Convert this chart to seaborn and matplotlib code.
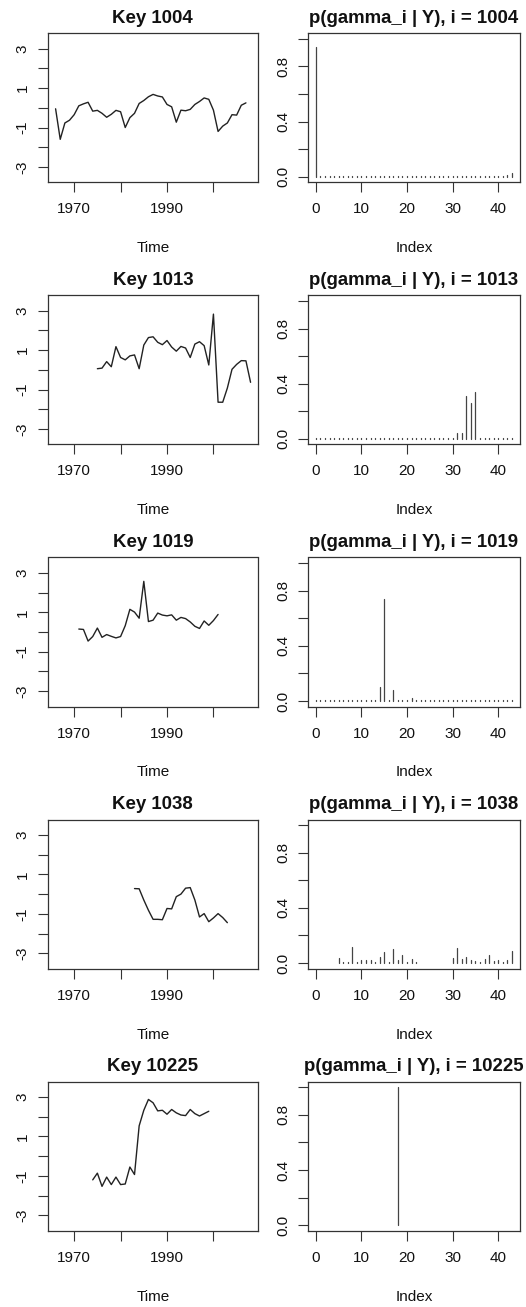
import numpy as np
import matplotlib
matplotlib.use("Agg")
import matplotlib.pyplot as plt
import seaborn as sns

# ---------------- data ----------------
keys = ["1004", "1013", "1019", "1038", "10225"]
start_years = [1966, 1975, 1971, 1983, 1974]

series_1004 = [-0.05, -1.6, -0.77, -0.63, -0.35, 0.1, 0.2, 0.28, -0.17, -0.13,
               -0.28, -0.48, -0.33, -0.13, -0.2, -1.0, -0.5, -0.28, 0.22, 0.37,
               0.56, 0.68, 0.6, 0.55, 0.17, 0.05, -0.73, -0.12, -0.15, -0.08,
               0.17, 0.32, 0.5, 0.43, -0.12, -1.2, -0.93, -0.77, -0.35, -0.37,
               0.13, 0.25]
series_1013 = [0.06, 0.09, 0.42, 0.16, 1.18, 0.63, 0.51, 0.71, 0.76, 0.06,
               1.26, 1.64, 1.68, 1.40, 1.28, 1.49, 1.16, 0.95, 1.19, 1.11,
               0.63, 1.31, 1.43, 1.23, 0.25, 2.83, -1.64, -1.64, -0.92, 0.03,
               0.28, 0.47, 0.46, -0.63]
series_1019 = [0.15, 0.13, -0.46, -0.23, 0.2, -0.27, -0.13, -0.22, -0.3, -0.23,
               0.32, 1.15, 1.01, 0.7, 2.57, 0.53, 0.6, 0.96, 0.86, 0.82,
               0.87, 0.6, 0.74, 0.68, 0.51, 0.29, 0.18, 0.56, 0.34, 0.58,
               0.89]
series_1038 = [0.28, 0.27, -0.3, -0.82, -1.28, -1.28, -1.3, -0.73, -0.75, -0.13,
               0.0, 0.3, 0.33, -0.3, -1.16, -0.99, -1.4, -1.21, -0.99, -1.19,
               -1.45]
series_10225 = [-1.2, -0.86, -1.53, -1.06, -1.44, -1.06, -1.44, -1.41, -0.55, -0.93,
                1.54, 2.33, 2.88, 2.71, 2.3, 2.33, 2.13, 2.37, 2.2, 2.09,
                2.06, 2.37, 2.16, 2.04, 2.16, 2.28]

prob_1004 = [0.94, 0.004, 0.004, 0.004, 0.004, 0.008, 0.004, 0.004, 0.004, 0.004,
             0.004, 0.004, 0.004, 0.004, 0.004, 0.004, 0.004, 0.006, 0.004, 0.004,
             0.004, 0.004, 0.004, 0.004, 0.004, 0.004, 0.004, 0.004, 0.004, 0.004,
             0.004, 0.004, 0.004, 0.004, 0.004, 0.004, 0.004, 0.004, 0.004, 0.004,
             0.004, 0.004, 0.01, 0.03]
prob_1013 = [0.004, 0.004, 0.004, 0.004, 0.004, 0.004, 0.004, 0.004, 0.004, 0.004,
             0.004, 0.004, 0.004, 0.004, 0.004, 0.004, 0.004, 0.004, 0.004, 0.004,
             0.004, 0.004, 0.004, 0.004, 0.004, 0.004, 0.004, 0.004, 0.006, 0.006,
             0.01, 0.04, 0.04, 0.31, 0.26, 0.34, 0.004, 0.004, 0.004, 0.004,
             0.004, 0.004, 0.004, 0.004]
prob_1019 = [0.004, 0.004, 0.004, 0.004, 0.004, 0.006, 0.004, 0.004, 0.006, 0.004,
             0.004, 0.004, 0.004, 0.004, 0.10, 0.74, 0.006, 0.08, 0.006, 0.004,
             0.004, 0.02, 0.004, 0.004, 0.004, 0.004, 0.004, 0.004, 0.004, 0.004,
             0.004, 0.004, 0.004, 0.004, 0.004, 0.004, 0.004, 0.008, 0.006, 0.004,
             0.004, 0.004, 0.004, 0.006]
prob_1038 = [0.004, 0.004, 0.004, 0.004, 0.004, 0.036, 0.005, 0.005, 0.12, 0.005,
             0.02, 0.025, 0.02, 0.005, 0.045, 0.083, 0.008, 0.105, 0.025, 0.06,
             0.005, 0.03, 0.008, 0.004, 0.004, 0.004, 0.004, 0.004, 0.004, 0.004,
             0.04, 0.11, 0.03, 0.045, 0.025, 0.015, 0.01, 0.03, 0.06, 0.015,
             0.025, 0.01, 0.02, 0.087]
prob_10225 = [0.004, 0.004, 0.004, 0.004, 0.004, 0.004, 0.004, 0.004, 0.004, 0.004,
              0.004, 0.004, 0.004, 0.004, 0.004, 0.004, 0.004, 0.004, 1.0, 0.004,
              0.004, 0.004, 0.004, 0.004, 0.004, 0.004, 0.004, 0.004, 0.004, 0.004,
              0.004, 0.004, 0.004, 0.004, 0.004, 0.004, 0.004, 0.004, 0.004, 0.004,
              0.004, 0.004, 0.004, 0.004]

all_series = [series_1004, series_1013, series_1019, series_1038, series_10225]
all_probs = [prob_1004, prob_1013, prob_1019, prob_1038, prob_10225]

year_ticks = [1970, 1980, 1990, 2000]
year_labels = ["1970", "", "1990", ""]
val_ticks = [-3, -2, -1, 0, 1, 2, 3]
val_labels = ["-3", "", "-1", "", "1", "", "3"]
idx_ticks = [0, 10, 20, 30, 40]
idx_labels = ["0", "10", "20", "30", "40"]
p_ticks = [0.0, 0.2, 0.4, 0.6, 0.8, 1.0]
p_labels = ["0.0", "", "0.4", "", "0.8", ""]

# ---------------- style ----------------
sns.set_style("white", {"xtick.bottom": True, "ytick.left": True})
plt.rcParams['font.family'] = ['Liberation Sans', 'DejaVu Sans']
plt.rcParams['text.color'] = "#111111"
plt.rcParams['axes.labelcolor'] = "#111111"

W, H = 526, 1307
fig = plt.figure(figsize=(W / 100, H / 100), dpi=100)

ax_h = 149
row_step = 262.1
top0 = 33.3
LINE_C = "#222222"
SPINE_C = "#333333"

def style_axes(ax):
    for s in ax.spines.values():
        s.set_visible(True)
        s.set_color(SPINE_C)
        s.set_linewidth(0.9)
    ax.tick_params(axis='both', which='major', direction='out', length=7.4,
                   width=0.8, color=SPINE_C, labelsize=11, labelcolor="#111111")
    ax.tick_params(axis='x', bottom=True, top=False, pad=7.0)
    ax.tick_params(axis='y', left=True, right=False, pad=5.5, labelrotation=90)
    for lab in ax.get_yticklabels():
        lab.set_va('center')
    ax.grid(False)

for r in range(5):
    top_px = top0 + row_step * r
    bottom = 1 - (top_px + ax_h) / H
    axL = fig.add_axes([47.7 / W, bottom, 210.3 / W, ax_h / H])
    axR = fig.add_axes([308.0 / W, bottom, 211.7 / W, ax_h / H])

    vals = all_series[r]
    years = np.arange(start_years[r], start_years[r] + len(vals))
    sns.lineplot(x=years, y=vals, ax=axL, color=LINE_C, linewidth=1.0)
    axL.set_xlim(1964.3, 2009.6)
    axL.set_ylim(-3.78, 3.78)
    axL.set_xticks(year_ticks)
    axL.set_xticklabels(year_labels)
    axL.set_yticks(val_ticks)
    axL.set_yticklabels(val_labels)
    style_axes(axL)
    axL.set_title(f"Key {keys[r]}", fontsize=13.4, fontweight='bold', pad=7.6,
                  color="#111111")
    axL.set_xlabel("Time", fontsize=11)
    axL.set_ylabel("")
    axL.xaxis.set_label_coords(0.5, -66 / ax_h)
    axL.xaxis.label.set_va('center')

    probs = all_probs[r]
    idx = np.arange(len(probs))
    axR.vlines(idx, 0, probs, colors="#444444", linewidth=0.9, capstyle='round')
    axR.set_xlim(-1.72, 44.72)
    axR.set_ylim(-0.04, 1.04)
    axR.set_xticks(idx_ticks)
    axR.set_xticklabels(idx_labels)
    axR.set_yticks(p_ticks)
    axR.set_yticklabels(p_labels)
    style_axes(axR)
    axR.set_title(f"p(gamma_i | Y), i = {keys[r]}", fontsize=13.4,
                  fontweight='bold', pad=7.6, color="#111111")
    axR.set_xlabel("Index", fontsize=11)
    axR.xaxis.set_label_coords(0.5, -66 / ax_h)
    axR.xaxis.label.set_va('center')

fig.savefig("out.png", dpi=100)
